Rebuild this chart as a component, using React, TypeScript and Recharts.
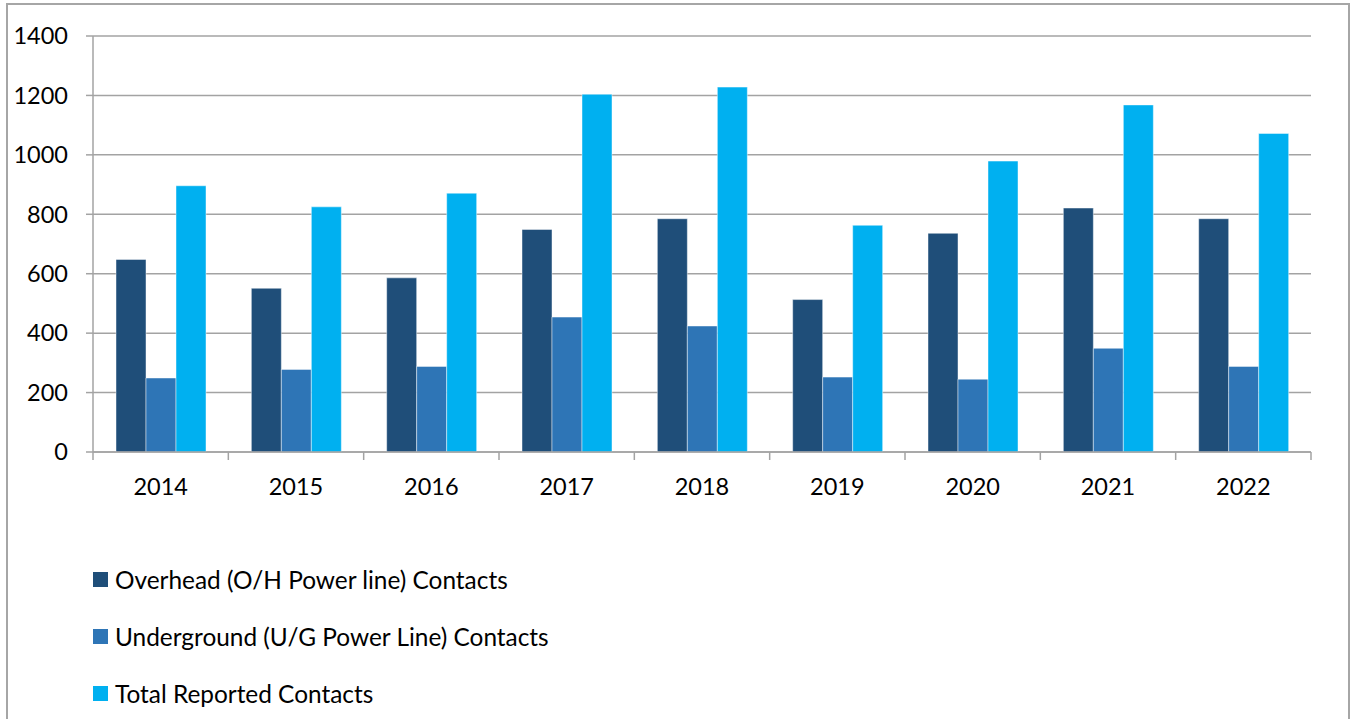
import React from "react";
import { BarChart, Bar, XAxis, YAxis, CartesianGrid } from "recharts";

// values
const years = ["2014", "2015", "2016", "2017", "2018", "2019", "2020", "2021", "2022"];
const overhead = [648, 551, 586, 749, 785, 513, 736, 821, 785];
const underground = [249, 278, 288, 454, 424, 252, 245, 349, 288];
const totalReported = [896, 825, 871, 1204, 1228, 763, 979, 1168, 1072];
const yTicks = [0, 200, 400, 600, 800, 1000, 1200, 1400];

const seriesNames = [
    "Overhead (O/H Power line) Contacts",
    "Underground (U/G Power Line) Contacts",
    "Total Reported Contacts"
];
const seriesKeys = ["overhead", "underground", "total"];
const seriesColors = ["#1F4E79", "#2E75B6", "#00B0F0"];

const data = years.map((year, i) => ({
    year,
    overhead: overhead[i],
    underground: underground[i],
    total: totalReported[i]
}));

const FONT = "Lato, 'Open Sans', sans-serif";
const AXIS_GRAY = "#a3a3a3";

// plot geometry (used for the between-category tick marks)
const CHART_W = 1354;
const CHART_H = 719;
const MARGIN = { top: 36, right: 43, left: 0, bottom: 227 };
const Y_AXIS_W = 93;
const BAND = (CHART_W - MARGIN.left - MARGIN.right - Y_AXIS_W) / years.length;

const YearTick = (props: any) => {
    const { x, y, payload, index } = props;
    const last = index === years.length - 1;
    return (
        <g>
            <line x1={x - BAND / 2} y1={y} x2={x - BAND / 2} y2={y + 8} stroke={AXIS_GRAY} strokeWidth={1.5} />
            {last && (
                <line x1={x + BAND / 2} y1={y} x2={x + BAND / 2} y2={y + 8} stroke={AXIS_GRAY} strokeWidth={1.5} />
            )}
            <text x={x} y={y + 43} textAnchor="middle" fontSize={23.5} fontFamily={FONT} fill="#000">
                {payload.value}
            </text>
        </g>
    );
};

export default function App() {
    return (
        <div style={{ position: "absolute", left: 0, top: 0, width: CHART_W, height: CHART_H, overflow: "hidden", background: "#fff" }}>
            {/* outer chart frame, bottom edge runs off the picture */}
            <div
                style={{
                    position: "absolute",
                    left: 6,
                    top: 3,
                    width: 1344,
                    height: 740,
                    border: "2px solid #a6a6a6",
                    boxSizing: "border-box"
                }}
            />
            <div style={{ position: "absolute", left: 0, top: 0 }}>
                <BarChart
                    width={CHART_W}
                    height={CHART_H}
                    data={data}
                    margin={MARGIN}
                    barCategoryGap="17%"
                    barGap={0}
                >
                    <CartesianGrid vertical={false} stroke={AXIS_GRAY} strokeWidth={1.5} />
                    <XAxis
                        dataKey="year"
                        height={40}
                        axisLine={{ stroke: AXIS_GRAY, strokeWidth: 1.5 }}
                        tickLine={false}
                        tickSize={0}
                        tickMargin={0}
                        interval={0}
                        tick={<YearTick />}
                    />
                    <YAxis
                        width={Y_AXIS_W}
                        domain={[0, 1400]}
                        ticks={yTicks}
                        interval={0}
                        axisLine={{ stroke: AXIS_GRAY, strokeWidth: 1.5 }}
                        tickLine={{ stroke: AXIS_GRAY, strokeWidth: 1.5 }}
                        tickSize={7}
                        tickMargin={18}
                        tick={{ fontSize: 23.5, fontFamily: FONT, fill: "#000" }}
                    />
                    {seriesKeys.map((key, i) => (
                        <Bar
                            key={key}
                            dataKey={key}
                            name={seriesNames[i]}
                            fill={seriesColors[i]}
                            stroke="rgba(255,255,255,0.45)"
                            strokeWidth={1}
                            isAnimationActive={false}
                        />
                    ))}
                </BarChart>
            </div>
            {/* legend */}
            {seriesNames.map((name, i) => (
                <div
                    key={name}
                    style={{
                        position: "absolute",
                        left: 93,
                        top: 564 + i * 57,
                        height: 30,
                        display: "flex",
                        alignItems: "center",
                        fontFamily: FONT,
                        fontSize: 24.4,
                        color: "#000",
                        whiteSpace: "nowrap"
                    }}
                >
                    <span style={{ display: "inline-block", width: 15, height: 15, background: seriesColors[i], marginRight: 7 }} />
                    {name}
                </div>
            ))}
        </div>
    );
}
